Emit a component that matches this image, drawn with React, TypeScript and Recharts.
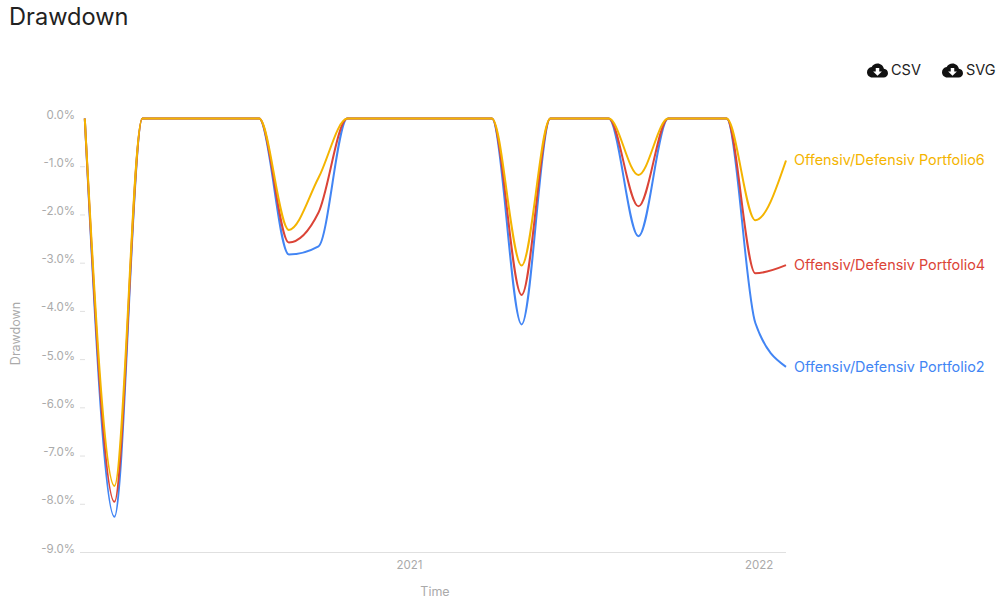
import { Label, Line, LineChart, XAxis, YAxis } from "recharts";

const FONT = "Inter, sans-serif";

const DATES = [
  "2020-01-28", "2020-02-28", "2020-03-28", "2020-04-28", "2020-05-28",
  "2020-06-28", "2020-07-28", "2020-08-28", "2020-09-28", "2020-10-28",
  "2020-11-28", "2020-12-28", "2021-01-28", "2021-02-28", "2021-03-28",
  "2021-04-28", "2021-05-28", "2021-06-28", "2021-07-28", "2021-08-28",
  "2021-09-28", "2021-10-28", "2021-11-28", "2021-12-28", "2022-01-29",
];

const PORTFOLIO2 = [0, -8.26, 0, 0, 0, 0, 0, -2.82, -2.65, 0, 0, 0, 0, 0, 0, -4.27, 0, 0, 0, -2.44, 0, 0, 0, -4.24, -5.15];
const PORTFOLIO4 = [0, -7.95, 0, 0, 0, 0, 0, -2.57, -1.95, 0, 0, 0, 0, 0, 0, -3.66, 0, 0, 0, -1.82, 0, 0, 0, -3.21, -3.04];
const PORTFOLIO6 = [0, -7.62, 0, 0, 0, 0, 0, -2.31, -1.23, 0, 0, 0, 0, 0, 0, -3.05, 0, 0, 0, -1.17, 0, 0, 0, -2.11, -0.87];

const Y_TICKS = [0, -1, -2, -3, -4, -5, -6, -7, -8, -9];
const X_TICKS = ["2021-01-01", "2022-01-01"];

const SERIES = [
  { key: "p2", label: "Offensiv/Defensiv Portfolio2", color: "#4285f4" },
  { key: "p4", label: "Offensiv/Defensiv Portfolio4", color: "#db4437" },
  { key: "p6", label: "Offensiv/Defensiv Portfolio6", color: "#f4b400" },
];

const data = DATES.map((d, i) => ({
  t: Date.parse(d),
  p2: PORTFOLIO2[i],
  p4: PORTFOLIO4[i],
  p6: PORTFOLIO6[i],
}));

const CLOUD =
  "M19.35 10.04C18.67 6.59 15.64 4 12 4 9.11 4 6.6 5.64 5.35 8.04 2.34 8.36 0 10.91 0 14c0 3.31 2.69 6 6 6h13c2.76 0 5-2.24 5-5 0-2.64-2.05-4.78-4.65-4.96zM17 13l-5 5-5-5h3V9h4v4h3z";

function Download({ label, left }: { label: string; left: number }) {
  return (
    <div
      style={{
        position: "absolute",
        left,
        top: 59,
        display: "flex",
        alignItems: "center",
        gap: 3,
        fontSize: 14.5,
        lineHeight: "22px",
        color: "#222",
      }}
    >
      <svg width={21} height={21} viewBox="0 0 24 24">
        <path d={CLOUD} fill="#111" />
      </svg>
      {label}
    </div>
  );
}

function YTick({ x, y, payload }: any) {
  return (
    <g>
      <text x={x + 3} y={y - 4} dy="0.35em" textAnchor="end" fontSize={11.5} fontFamily={FONT} fill="#aaaaaa">
        {payload.value.toFixed(1)}%
      </text>
      {payload.value !== 0 && payload.value !== -9 ? (
        <line x1={x + 8} x2={x + 13} y1={y} y2={y} stroke="#e0e0e0" />
      ) : null}
    </g>
  );
}

function EndLabel({ x, y, index, value, color, text }: any) {
  if (index !== DATES.length - 1 || value === undefined) return null;
  return (
    <text x={x + 8} y={y} dy="0.35em" fontSize={14.4} fontFamily={FONT} fill={color}>
      {text}
    </text>
  );
}

export default function App() {
  return (
    <div
      style={{
        position: "absolute",
        left: 0,
        top: 0,
        width: 1000,
        height: 600,
        background: "#fff",
        fontFamily: FONT,
        overflow: "hidden",
      }}
    >
      <div style={{ position: "absolute", left: 9, top: 1, fontSize: 23.6, lineHeight: "32px", color: "#222" }}>
        Drawdown
      </div>
      <Download label="CSV" left={867} />
      <Download label="SVG" left={942} />
      <LineChart
        width={1000}
        height={600}
        data={data}
        margin={{ top: 118.5, right: 214, bottom: 0, left: 0 }}
      >
        <XAxis
          dataKey="t"
          type="number"
          scale="time"
          domain={[Date.parse("2020-01-23"), Date.parse("2022-01-29")]}
          ticks={X_TICKS.map((d) => Date.parse(d))}
          tickFormatter={(v) => String(new Date(v).getUTCFullYear())}
          tick={{ fill: "#aaaaaa", fontSize: 11.5, fontFamily: FONT }}
          axisLine={{ stroke: "#e0e0e0" }}
          tickLine={false}
          height={47.5}
          tickMargin={2}
        >
          <Label value="Time" position="insideBottom" offset={4} dx={2} fill="#aaaaaa" fontSize={12.5} fontFamily={FONT} />
        </XAxis>
        <YAxis
          type="number"
          domain={[-9, 0]}
          ticks={Y_TICKS}
          width={80}
          axisLine={false}
          tickLine={false}
          tick={<YTick />}
          interval={0}
        >
          <Label
            value="Drawdown"
            angle={-90}
            position="insideLeft"
            offset={16}
            dy={-2}
            fill="#aaaaaa"
            fontSize={12.5}
            fontFamily={FONT}
            style={{ textAnchor: "middle" }}
          />
        </YAxis>
        {SERIES.map((s) => (
          <Line
            key={s.key}
            type="monotone"
            dataKey={s.key}
            stroke={s.color}
            strokeWidth={2}
            dot={false}
            isAnimationActive={false}
            label={<EndLabel color={s.color} text={s.label} />}
          />
        ))}
      </LineChart>
    </div>
  );
}
